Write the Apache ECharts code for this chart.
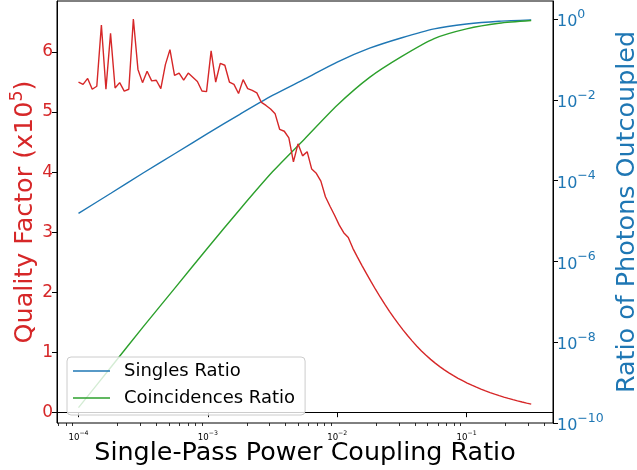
<!DOCTYPE html>
<html><head><meta charset="utf-8">
<script src="https://cdn.jsdelivr.net/npm/echarts@6/dist/echarts.min.js"></script>
<style>html,body{margin:0;padding:0;background:#fff}#c{width:637px;height:470px}</style>
</head><body><div id="c"></div>
<script>
// Single-pass power coupling ratio samples for the quality factor curve
const couplingQ = [
1.000e-4,1.085e-4,1.177e-4,1.277e-4,1.385e-4,1.503e-4,1.630e-4,1.769e-4,1.918e-4,2.081e-4,
2.257e-4,2.449e-4,2.656e-4,2.882e-4,3.126e-4,3.391e-4,3.679e-4,3.991e-4,4.329e-4,4.696e-4,
5.094e-4,5.526e-4,5.995e-4,6.503e-4,7.055e-4,7.653e-4,8.302e-4,9.006e-4,9.770e-4,1.060e-3,
1.150e-3,1.247e-3,1.353e-3,1.468e-3,1.592e-3,1.727e-3,1.874e-3,2.033e-3,2.205e-3,2.392e-3,
2.595e-3,2.815e-3,3.054e-3,3.313e-3,3.594e-3,3.899e-3,4.229e-3,4.588e-3,4.977e-3,5.399e-3,
5.857e-3,6.353e-3,6.892e-3,7.477e-3,8.111e-3,8.799e-3,9.545e-3,1.035e-2,1.123e-2,1.218e-2,
1.322e-2,1.434e-2,1.555e-2,1.688e-2,1.831e-2,1.986e-2,2.154e-2,2.337e-2,2.535e-2,2.750e-2,
2.983e-2,3.236e-2,3.511e-2,3.809e-2,4.132e-2,4.482e-2,4.862e-2,5.275e-2,5.722e-2,6.207e-2,
6.734e-2,7.305e-2,7.924e-2,8.596e-2,9.326e-2,1.012e-1,1.098e-1,1.191e-1,1.292e-1,1.401e-1,
1.520e-1,1.649e-1,1.789e-1,1.941e-1,2.105e-1,2.284e-1,2.477e-1,2.688e-1,2.916e-1,3.162e-1];
// Quality factor (x10^5)
const qualityFactor = [
5.50,5.46,5.56,5.38,5.43,6.45,5.38,6.31,5.40,5.49,
5.35,5.38,6.55,5.71,5.49,5.68,5.52,5.53,5.39,5.79,
6.04,5.61,5.65,5.53,5.65,5.58,5.51,5.35,5.34,6.02,
5.50,5.81,5.78,5.50,5.46,5.31,5.54,5.39,5.36,5.32,
5.16,5.11,5.05,4.97,4.71,4.68,4.57,4.17,4.47,4.27,
4.34,4.05,3.98,3.85,3.59,3.43,3.28,3.12,2.99,2.91,
2.73,2.584,2.442,2.304,2.170,2.040,1.915,1.795,1.680,1.570,
1.466,1.367,1.273,1.184,1.100,1.021,0.947,0.880,0.818,0.760,
0.706,0.656,0.609,0.565,0.524,0.486,0.450,0.416,0.384,0.354,
0.326,0.300,0.275,0.252,0.230,0.209,0.189,0.170,0.152,0.135];
// Coupling ratio samples for the outcoupled ratio curves
const couplingRatio = [1e-4, 1.78e-4, 3.16e-4, 5.62e-4, 1e-3, 1.78e-3, 3.16e-3, 5.62e-3,
  1e-2, 1.78e-2, 3.16e-2, 5.62e-2, 0.1, 0.178, 0.316];
const singlesRatio = [1.55e-5, 4.90e-5, 1.55e-4, 4.79e-4, 1.48e-3, 4.47e-3, 1.29e-2, 3.31e-2,
  8.65e-2, 0.191, 0.347, 0.575, 0.759, 0.891, 0.962];
const coincidencesRatio = [2.40e-10, 2.40e-9, 2.40e-8, 2.29e-7, 2.19e-6, 2.00e-5, 1.66e-4, 1.10e-3,
  7.41e-3, 3.63e-2, 0.120, 0.331, 0.575, 0.794, 0.925];
// ticks
const xMajorTicks = [1e-4, 1e-3, 1e-2, 1e-1];
const xMinorTicks = [7e-5,8e-5,9e-5,2e-4,3e-4,4e-4,5e-4,6e-4,7e-4,8e-4,9e-4,2e-3,3e-3,4e-3,5e-3,6e-3,7e-3,8e-3,9e-3,
  2e-2,3e-2,4e-2,5e-2,6e-2,7e-2,8e-2,9e-2,0.2,0.3,0.4];
const qTicks = [0, 1, 2, 3, 4, 5, 6];
const ratioTicks = [1e-10, 1e-8, 1e-6, 1e-4, 1e-2, 1];

const FONT = 'DejaVu Sans';
const RED = '#d62728', BLUE = '#1f77b4', GREEN = '#2ca02c';
const X_MIN = 6.82e-5, X_MAX = 0.466;

function expLabel(v) {
  const e = Math.round(Math.log10(v));
  if (Math.abs(Math.log10(v) - e) > 1e-6) return '';
  const s = e < 0 ? '\u2212' + (-e) : String(e);
  return '{b|10}{s|' + s + '}';
}

const chart = echarts.init(document.getElementById('c'), null, {renderer: 'canvas'});
chart.setOption({
  animation: false,
  backgroundColor: '#fff',
  textStyle: {fontFamily: FONT},
  grid: {left: 57, right: 84, top: 1, bottom: 47, containLabel: false, outerBoundsMode: 'none',
         show: true, borderColor: '#000', borderWidth: 1, backgroundColor: 'transparent'},
  legend: {
    orient: 'vertical', left: 67, top: 357,
    data: ['Singles Ratio', 'Coincidences Ratio'],
    icon: 'rect', itemWidth: 37, itemHeight: 1.6, itemGap: 7,
    padding: [4, 10, 7, 6],
    backgroundColor: 'rgba(255,255,255,0.8)', borderColor: '#cccccc', borderWidth: 1, borderRadius: 4,
    textStyle: {fontFamily: FONT, fontSize: 18, color: '#000', lineHeight: 20, padding: [0, 0, 0, 9]}
  },
  xAxis: [{
    type: 'log', logBase: 10, min: X_MIN, max: X_MAX, position: 'bottom',
    name: 'Single-Pass Power Coupling Ratio', nameLocation: 'middle', nameGap: 18,
    nameMoveOverlap: false,
    nameTextStyle: {fontFamily: FONT, fontSize: 25.4, color: '#000', verticalAlign: 'top'},
    axisLine: {show: true, lineStyle: {color: '#000', width: 1}},
    axisTick: {show: true, length: 5, lineStyle: {color: '#000', width: 1}, customValues: xMajorTicks},
    minorTick: {show: false},
    splitLine: {show: false},
    axisLabel: {show: true, margin: 7, customValues: xMajorTicks, formatter: expLabel, color: '#000',
      hideOverlap: false, showMinLabel: true, showMaxLabel: true,
      rich: {b: {fontFamily: FONT, fontSize: 8.6, lineHeight: 12, verticalAlign: 'bottom', color: '#000'},
             s: {fontFamily: FONT, fontSize: 6.2, lineHeight: 12, verticalAlign: 'top', color: '#000'}}}
  }, {
    type: 'log', logBase: 10, min: X_MIN, max: X_MAX, position: 'bottom', gridIndex: 0,
    axisLine: {show: false}, axisLabel: {show: false}, splitLine: {show: false},
    axisTick: {show: true, length: 3, lineStyle: {color: '#000', width: 0.8}, customValues: xMinorTicks}
  }],
  yAxis: [{
    type: 'value', min: -0.18, max: 6.85, position: 'left',
    name: '{a|Quality Factor (x10}{s|5}{a|)}', nameLocation: 'middle', nameGap: 19, nameRotate: 90,
    nameMoveOverlap: false,
    nameTextStyle: {fontFamily: FONT, fontSize: 25.4, color: RED,
      rich: {a: {fontFamily: FONT, fontSize: 25.4, color: RED, lineHeight: 30, verticalAlign: 'bottom'},
             s: {fontFamily: FONT, fontSize: 17.5, color: RED, lineHeight: 30, verticalAlign: 'top'}}},
    axisLine: {show: true, lineStyle: {color: '#000', width: 1}},
    axisTick: {show: true, length: 5, lineStyle: {color: '#000', width: 1}, customValues: qTicks},
    splitLine: {show: false},
    axisLabel: {show: true, margin: 4, customValues: qTicks, color: RED, fontFamily: FONT, fontSize: 17,
      showMinLabel: true, showMaxLabel: true}
  }, {
    type: 'log', logBase: 10, min: 1e-10, max: 2.82, position: 'right',
    name: 'Ratio of Photons Outcoupled', nameLocation: 'middle', nameGap: 62, nameRotate: 90,
    nameMoveOverlap: false,
    nameTextStyle: {fontFamily: FONT, fontSize: 25.4, color: BLUE},
    axisLine: {show: true, lineStyle: {color: '#000', width: 1}},
    axisTick: {show: true, length: 5, lineStyle: {color: '#000', width: 1}, customValues: ratioTicks},
    splitLine: {show: false}, minorTick: {show: false},
    axisLabel: {show: true, margin: 4, customValues: ratioTicks, formatter: expLabel, color: BLUE,
      showMinLabel: true, showMaxLabel: true, hideOverlap: false,
      rich: {b: {fontFamily: FONT, fontSize: 16, lineHeight: 22, verticalAlign: 'bottom', color: BLUE},
             s: {fontFamily: FONT, fontSize: 12.5, lineHeight: 22, verticalAlign: 'top', color: BLUE}}}
  }],
  series: [{
    name: 'Quality Factor', type: 'line', xAxisIndex: 0, yAxisIndex: 0,
    data: couplingQ.map((x, i) => [x, qualityFactor[i]]),
    showSymbol: false, symbol: 'none', color: RED, lineStyle: {color: RED, width: 1.4}, z: 3
  }, {
    name: 'Singles Ratio', type: 'line', xAxisIndex: 0, yAxisIndex: 1,
    data: couplingRatio.map((x, i) => [x, singlesRatio[i]]),
    smooth: 0.25,
    showSymbol: false, symbol: 'none', color: BLUE, lineStyle: {color: BLUE, width: 1.4}, z: 2
  }, {
    name: 'Coincidences Ratio', type: 'line', xAxisIndex: 0, yAxisIndex: 1,
    data: couplingRatio.map((x, i) => [x, coincidencesRatio[i]]),
    smooth: 0.25,
    showSymbol: false, symbol: 'none', color: GREEN, lineStyle: {color: GREEN, width: 1.4}, z: 2
  }]
});
</script>
</body></html>
